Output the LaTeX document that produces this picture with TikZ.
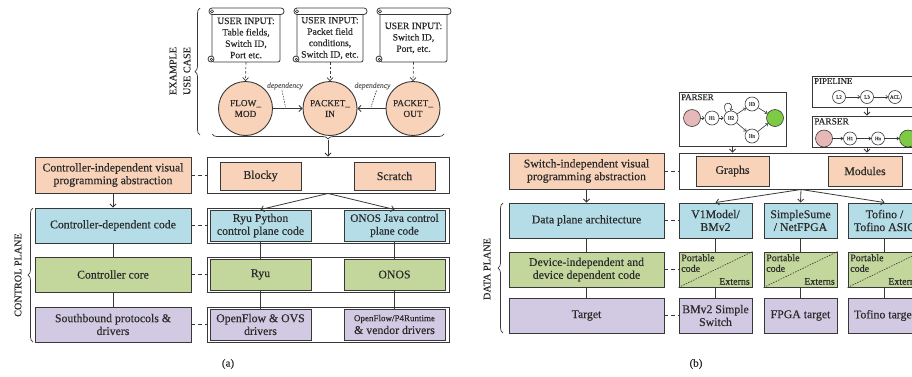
\documentclass[tikz,border=0pt]{standalone}
\usepackage{fontspec}
\setmainfont{Liberation Serif}[FakeBold=0.35]
\usetikzlibrary{arrows.meta,decorations.pathreplacing,calc}
\definecolor{bd}{HTML}{383838}
\definecolor{tx}{HTML}{2A2A2A}
\definecolor{peach}{HTML}{F8D3B9}
\definecolor{lblue}{HTML}{B5DDE7}
\definecolor{lgreen}{HTML}{C3D69B}
\definecolor{lpurp}{HTML}{D2CAE2}
\definecolor{pinkc}{HTML}{E6B9B8}
\definecolor{bgreen}{HTML}{7DCB45}
\tikzset{
  every node/.style={text=tx},
  box/.style={draw=bd, line width=0.95pt, align=center, inner sep=1pt, font=\fontsize{11.8}{12.8}\selectfont},
  pbox/.style={box, fill=peach},
  bbox/.style={box, fill=lblue},
  gbox/.style={box, fill=lgreen},
  vbox/.style={box, fill=lpurp},
  cont/.style={draw=bd, line width=0.95pt, fill=white, inner sep=0},
  conn/.style={draw=bd, line width=0.8pt},
  dconn/.style={draw=bd, line width=0.8pt, dash pattern=on 4pt off 3pt},
  arr/.style={conn, -{Straight Barb[length=3pt,width=6pt]}},
  darr/.style={draw=bd, line width=0.7pt, dash pattern=on 2.5pt off 2pt, -{Straight Barb[length=3pt,width=6pt]}},
  scrl/.style={draw=bd, line width=0.8pt, fill=white},
  scrlc/.style={draw=bd, line width=0.6pt},
  scrtxt/.style={align=center, inner sep=0, minimum width=68pt, minimum height=48pt, font=\fontsize{9.6}{11.4}\selectfont},
  circ/.style={circle, draw=bd, line width=0.9pt, fill=peach, minimum size=54pt, inner sep=0, align=center, font=\fontsize{9.3}{10.8}\selectfont},
  dep/.style={inner sep=1pt, font=\fontsize{7.6}{8}\selectfont\itshape, text=bd!75},
  brc/.style={draw=bd, line width=0.7pt, decorate, decoration={brace, amplitude=5pt}},
  rot/.style={rotate=90, align=center, inner sep=0, font=\fontsize{10.2}{14}\selectfont},
  gn/.style={circle, draw=bd, fill=white, line width=0.6pt, inner sep=0, minimum size=14pt, font=\fontsize{5}{5}\selectfont},
  pinkn/.style={circle, draw=bd, fill=pinkc, line width=0.6pt, inner sep=0, minimum size=17pt},
  greenn/.style={circle, draw=bd, fill=bgreen, line width=0.6pt, inner sep=0, minimum size=17pt},
  sarr/.style={draw=bd, line width=0.6pt, -{Straight Barb[length=2pt,width=3.5pt]}},
  glabel/.style={anchor=north west, inner sep=0, font=\fontsize{8.8}{9}\selectfont},
  pcl/.style={inner sep=2.5pt, align=left, font=\fontsize{10}{10.6}\selectfont},
  captxt/.style={font=\fontsize{11}{12}\selectfont}
}
\newcommand{\scrollshape}[4]{%
  \filldraw[scrl, rounded corners=2pt] (#1,#3+4) rectangle (#2,#4);
  \filldraw[scrl, rounded corners=3pt] (#1-3,#3) rectangle (#2+4,#3+6.5);
  \draw[scrlc] (#1,#3+3.3) circle (1.6pt);
  \filldraw[scrl] (#1-1,#4-3) circle (3pt);
  \draw[scrlc] (#1-0.6,#4-2.6) circle (1.2pt);
}
\begin{document}
\begin{tikzpicture}[x=1pt,y=-1pt]
\useasboundingbox (0,0) rectangle (912,376);

% ================= Panel (a) =================
\scrollshape{212}{280}{8}{62}
\scrollshape{297}{363}{8}{62}
\scrollshape{380}{447}{8}{62}
\node[scrtxt] (sc1) at (246,38) {USER INPUT:\\Table fields,\\Switch ID,\\Port etc.};
\node[scrtxt] (sc2) at (330,38) {USER INPUT:\\Packet field\\conditions,\\Switch ID, etc.};
\node[scrtxt] (sc3) at (413.5,38) {USER INPUT:\\Switch ID,\\Port, etc.};

\node[circ] (fm) at (245.5,108.5) {FLOW\_\\MOD};
\node[circ] (pin) at (330,108.5) {PACKET\_\\IN};
\node[circ] (pout) at (413,108.5) {PACKET\_\\OUT};

\draw[darr] (sc1.south) -- (fm.north);
\draw[darr] (sc2.south) -- (pin.north);
\draw[darr] (sc3.south) -- (pout.north);
\draw[arr] (fm.east) -- (pin.west);
\draw[arr] (pout.west) -- (pin.east);

\node[dep] (d1) at (285,86) {dependency};
\node[dep] (d2) at (372.5,86) {dependency};
\coordinate (d1e) at (285.5,107);
\coordinate (d2e) at (371,107);
\draw[bd, line width=0.6pt, dash pattern=on 1.5pt off 1.2pt] ([xshift=-3pt]d1.south) -- (d1e);
\draw[bd, line width=0.6pt, dash pattern=on 1.5pt off 1.2pt] ([xshift=4pt]d2.south) -- (d2e);

\draw[brc] (200,135) -- (200,8);
\node[rot] (euc) at (180,71) {EXAMPLE\\USE CASE};
\draw[brc] (444,134) -- (212,134);
\coordinate (bt) at (328,140);

% row 0
\node[pbox, minimum width=156pt, minimum height=36pt] (cia) at (113,175) {Controller-independent visual\\programming abstraction};
\node[cont, minimum width=242pt, minimum height=36pt] (blkc) at (328,175) {};
\node[pbox, minimum width=81pt, minimum height=28pt] (blocky) at (260.5,176) {Blocky};
\node[pbox, minimum width=81pt, minimum height=28pt] (scratch) at (394.5,176) {Scratch};
\draw[arr] (bt) -- (blkc.north);
\draw[dconn] (cia.east) -- (blkc.west);

% row 1
\node[bbox, minimum width=156pt, minimum height=35pt] (cdc) at (113,225.5) {Controller-dependent code};
\node[cont, minimum width=242pt, minimum height=35pt] (c1) at (328,225.5) {};
\node[bbox, minimum width=101pt, minimum height=31pt] (ryupy) at (260.5,225.5) {Ryu Python\\control plane code};
\node[bbox, minimum width=101pt, minimum height=31pt, font=\fontsize{11.3}{12.8}\selectfont] (onosj) at (394.5,225.5) {ONOS Java control\\plane code};
% row 2
\node[gbox, minimum width=156pt, minimum height=35pt] (core) at (113,274.5) {Controller core};
\node[cont, minimum width=242pt, minimum height=35pt] (c2) at (328,274.5) {};
\node[gbox, minimum width=101pt, minimum height=31pt] (ryu) at (260.5,274.5) {Ryu};
\node[gbox, minimum width=101pt, minimum height=31pt] (onos) at (394.5,274.5) {ONOS};
% row 3
\node[vbox, minimum width=156pt, minimum height=35pt] (sb) at (113,324.5) {Southbound protocols \&\\drivers};
\node[cont, minimum width=242pt, minimum height=35pt] (c3) at (328,324.5) {};
\node[vbox, minimum width=101pt, minimum height=31pt] (ofovs) at (260.5,324.5) {OpenFlow \& OVS\\drivers};
\node[vbox, minimum width=101pt, minimum height=31pt] (ofp4) at (394.5,324.5) {{\fontsize{9}{10}\selectfont OpenFlow/P4Runtime}\\\& vendor drivers};

\draw[arr] (cia.south) -- (cdc.north);
\draw[arr] (blkc.south) -- (ryupy.north);
\draw[arr] (blkc.south) -- (onosj.north);
\draw[conn] (cdc.south) -- (core.north);
\draw[conn] (core.south) -- (sb.north);
\draw[conn] (ryupy.south) -- (ryu.north);
\draw[conn] (ryu.south) -- (ofovs.north);
\draw[conn] (onosj.south) -- (onos.north);
\draw[conn] (onos.south) -- (ofp4.north);
\draw[dconn] (cdc.east) -- (c1.west);
\draw[dconn] (core.east) -- (c2.west);
\draw[dconn] (sb.east) -- (c3.west);

\draw[brc] (33,342) -- (33,208);
\node[rot] (cpl) at (18,275) {CONTROL PLANE};
\node[captxt] (capa) at (228,364) {(a)};

% ================= Panel (b) =================
% parser graph
\node[cont, minimum width=107pt, minimum height=54pt] (pg) at (732.5,119) {};
\node[glabel] (pgl) at (681,94) {PARSER};
\node[pinkn] (pk1) at (692,118) {};
\node[gn] (h1) at (712,118) {H1};
\node[gn] (h2) at (731,118) {H2};
\node[gn] (h3) at (752,104) {H3};
\node[gn] (hn) at (752,136) {Hn};
\node[greenn] (gr1) at (775,118) {};
\draw[sarr] (pk1) -- (h1);
\draw[sarr] (h1) -- (h2);
\draw[sarr] (h2) -- (h3);
\draw[sarr] (h2) -- (hn);
\draw[sarr] (h3) -- (gr1);
\draw[sarr] (hn) -- (gr1);
\draw[sarr] (h2.130) .. controls +(-7,-12) and +(5,-10) .. (h2.95);

% pipeline
\node[cont, minimum width=110pt, minimum height=31pt] (pipe) at (867,91.5) {};
\node[glabel] (pipel) at (814,78) {PIPELINE};
\node[gn, minimum size=13pt] (l2) at (839,97) {L2};
\node[gn, minimum size=13pt] (l3) at (867,97) {L3};
\node[gn, minimum size=13pt] (acl) at (895,97) {ACL};
\draw[sarr] (l2) -- (l3);
\draw[sarr] (l3) -- (acl);

% parser 2
\node[cont, minimum width=110pt, minimum height=31pt] (par2) at (867,131.5) {};
\node[glabel, font=\fontsize{9.4}{10}\selectfont] (par2l) at (814,118) {PARSER};
\node[pinkn] (pk2) at (824,138.5) {};
\node[gn, minimum size=13pt] (q1) at (850,138.5) {H1};
\node[gn, minimum size=13pt] (qn) at (878,138.5) {Hn};
\node[greenn] (gr2) at (908,138.5) {};
\draw[sarr] (pk2) -- (q1);
\draw[sarr] (q1) -- (qn);
\draw[sarr] (qn) -- (gr2);
\draw[arr] (pipe.south) -- (par2.north);

% row 0
\node[pbox, minimum width=155pt, minimum height=36pt] (sia) at (586.5,171) {Switch-independent visual\\programming abstraction};
\node[cont, minimum width=244pt, minimum height=36pt] (gcont) at (801,171) {};
\node[pbox, minimum width=73pt, minimum height=30pt] (graphs) at (732.5,171) {Graphs};
\node[pbox, minimum width=74pt, minimum height=30pt] (modules) at (865,171) {Modules};
\draw[arr] (pg.south) -- (pg.south |- gcont.north);
\draw[arr] (par2.south) -- (par2.south |- gcont.north);
\draw[dconn] (sia.east) -- (gcont.west);

% row 1
\node[bbox, minimum width=155pt, minimum height=35pt] (dpa) at (586.5,220.5) {Data plane architecture};
\node[bbox, minimum width=73pt, minimum height=35pt] (v1) at (715.5,220.5) {V1Model/\\BMv2};
\node[bbox, minimum width=73pt, minimum height=35pt] (ssn) at (800.5,220.5) {SimpleSume\\/ NetFPGA};
\node[bbox, minimum width=73pt, minimum height=35pt] (tof) at (884.5,220.5) {Tofino /\\Tofino ASIC};
% row 2
\node[gbox, minimum width=155pt, minimum height=35pt] (didc) at (586.5,269.5) {Device-independent and\\device dependent code};
\node[gbox, minimum width=73pt, minimum height=35pt] (pc1) at (715.5,269.5) {};
\node[gbox, minimum width=73pt, minimum height=35pt] (pc2) at (800.5,269.5) {};
\node[gbox, minimum width=73pt, minimum height=35pt] (pc3) at (884.5,269.5) {};
\foreach \p in {pc1,pc2,pc3}{
  \draw[bd, line width=0.6pt, dash pattern=on 1.5pt off 1.2pt] (\p.south west) -- (\p.north east);
  \node[pcl, anchor=north west] at (\p.north west) {Portable\\code};
  \node[pcl, anchor=south east] at (\p.south east) {Externs};
}
% row 3
\node[vbox, minimum width=155pt, minimum height=35pt] (tgt) at (586.5,315.5) {Target};
\node[vbox, minimum width=73pt, minimum height=35pt] (bm) at (715.5,315.5) {BMv2 Simple\\Switch};
\node[vbox, minimum width=73pt, minimum height=35pt] (fpga) at (800.5,315.5) {FPGA target};
\node[vbox, minimum width=73pt, minimum height=35pt] (toft) at (884.5,315.5) {Tofino target};

\draw[arr] (sia.south) -- (dpa.north);
\draw[arr] (gcont.south) -- (v1.north);
\draw[arr] (gcont.south) -- (ssn.north);
\draw[arr] (gcont.south) -- (tof.north);
\draw[conn] (dpa.south) -- (didc.north);
\draw[conn] (didc.south) -- (tgt.north);
\draw[conn] (v1.south) -- (pc1.north);
\draw[conn] (pc1.south) -- (bm.north);
\draw[conn] (ssn.south) -- (pc2.north);
\draw[conn] (pc2.south) -- (fpga.north);
\draw[conn] (tof.south) -- (pc3.north);
\draw[conn] (pc3.south) -- (toft.north);
\draw[dconn] (dpa.east) -- (v1.west);
\draw[dconn] (didc.east) -- (pc1.west);
\draw[dconn] (tgt.east) -- (bm.west);

\draw[brc] (503,333) -- (503,203);
\node[rot] (dpl) at (487,269) {DATA PLANE};
\node[captxt] (capb) at (696,364) {(b)};
\end{tikzpicture}
\end{document}
